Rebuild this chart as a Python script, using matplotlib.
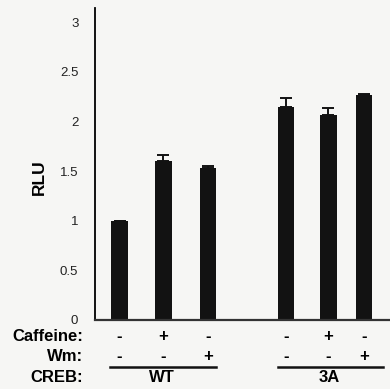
import matplotlib
matplotlib.use('Agg')
import matplotlib.pyplot as plt
from matplotlib.transforms import blended_transform_factory

plt.rcParams['font.family'] = ['Liberation Sans', 'DejaVu Sans']

rlu = [1.0, 1.6, 1.53, 2.14, 2.06, 2.27]
rlu_err = [0.0, 0.06, 0.02, 0.10, 0.07, 0.01]
caffeine = ['-', '+', '-', '-', '+', '-']
wm = ['-', '-', '+', '-', '-', '+']
creb = ['WT', '3A']
yticks = [0, 0.5, 1, 1.5, 2, 2.5, 3]
ytick_labels = ['0', '0.5', '1', '1.5', '2', '2.5', '3']

# bar positions (the scan has uneven spacing in the 3A group)
xpos = [0, 1, 2.01, 3.78, 4.75, 5.56]

bg = '#f6f6f4'
fig = plt.figure(figsize=(3.9, 3.89), dpi=100, facecolor=bg)
ax = fig.add_axes([0.2436, 0.1774, 0.7564, 0.8016], facecolor=bg)

ax.bar(xpos, rlu, width=0.37, color='#121212')
ax.errorbar(xpos, rlu, yerr=[[0] * len(rlu), rlu_err], fmt='none',
            ecolor='#121212', elinewidth=1.4, capsize=4, capthick=1.4)

ax.set_xlim(-0.557, 6.15)
ax.set_ylim(0, 3.14)
ax.set_yticks(yticks)
ax.set_yticklabels(ytick_labels, fontsize=9.5, color='#222222')
ax.set_xticks([])
ax.tick_params(axis='y', length=0, pad=12)
ax.spines['top'].set_visible(False)
ax.spines['right'].set_visible(False)
ax.spines['left'].set_linewidth(1.3)
ax.spines['bottom'].set_linewidth(1.6)
ax.spines['bottom'].set_color('#333333')
fig.text(39 / 390, 0.545, 'RLU', rotation=90, ha='center', va='center',
         fontsize=12.5, fontweight='bold')

tr = blended_transform_factory(ax.transData, fig.transFigure)
row_y = {'Caffeine:': 0.1337, 'Wm:': 0.0823, 'CREB:': 0.0283}
for name, y in row_y.items():
    fig.text(83 / 390, y, name, ha='right', va='center',
             fontsize=12, fontweight='bold')

for x, c, w in zip(xpos, caffeine, wm):
    ax.text(x, 0.1337, c, transform=tr, ha='center', va='center',
            fontsize=12, fontweight='bold')
    ax.text(x, 0.0823, w, transform=tr, ha='center', va='center',
            fontsize=12, fontweight='bold')

groups = [(-0.216, 2.19), (3.6, 5.99)]
for (x0, x1), g in zip(groups, creb):
    ax.plot([x0, x1], [0.0578, 0.0578], transform=tr, color='#111111',
            lw=1.8, clip_on=False)
    ax.text((x0 + x1) / 2 - 0.03, 0.0283, g, transform=tr, ha='center',
            va='center', fontsize=12, fontweight='bold')

fig.savefig('out.png', dpi=100, facecolor=bg)
